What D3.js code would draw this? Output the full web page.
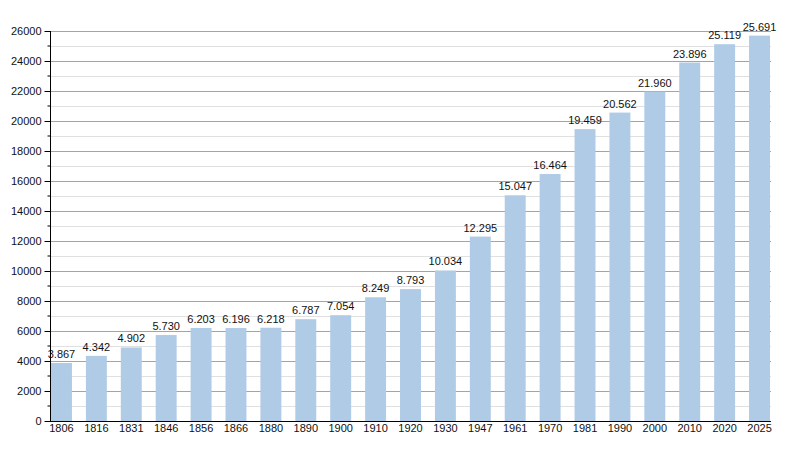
<!DOCTYPE html>
<html>
<head>
<meta charset="utf-8">
<script src="https://cdn.jsdelivr.net/npm/d3@7"></script>
<style>
  body { margin: 0; background: #fff; }
  text { font-family: "Liberation Sans", Arial, sans-serif; }
</style>
</head>
<body>
<div id="chart"></div>
<script>
// population by census year
var years = ["1806", "1816", "1831", "1846", "1856", "1866", "1880", "1890", "1900", "1910",
    "1920", "1930", "1947", "1961", "1970", "1981", "1990", "2000", "2010", "2020", "2025"];
var population = [3867, 4342, 4902, 5730, 6203, 6196, 6218, 6787, 7054, 8249,
    8793, 10034, 12295, 15047, 16464, 19459, 20562, 21960, 23896, 25119, 25691];
var majorTicks = d3.range(0, 26001, 2000);
var minorTicks = d3.range(1000, 26000, 2000);

var width = 800, height = 450;
// plot box edges (window.top is read-only, so no "top" here)
var plotLeft = 50, plotRight = 771, plotTop = 31, plotBottom = 421;

var svg = d3.select("#chart").append("svg")
    .attr("width", width)
    .attr("height", height);

var x = d3.scaleBand()
    .domain(years)
    .range([plotLeft + 1, plotRight - 1])
    .paddingInner(0.4)
    .paddingOuter(0);

var y = d3.scaleLinear()
    .domain([0, 26000])
    .range([plotBottom, plotTop]);

// minor grid lines
svg.append("g").selectAll("line")
    .data(minorTicks)
    .enter().append("line")
    .attr("x1", plotLeft).attr("x2", plotRight)
    .attr("y1", function (d) { return y(d) + 0.5; })
    .attr("y2", function (d) { return y(d) + 0.5; })
    .style("stroke", "#e0e0e0");

// major grid lines
svg.append("g").selectAll("line")
    .data(majorTicks.slice(1))
    .enter().append("line")
    .attr("x1", plotLeft).attr("x2", plotRight)
    .attr("y1", function (d) { return y(d) + 0.5; })
    .attr("y2", function (d) { return y(d) + 0.5; })
    .style("stroke", "#a4a4a4");

// bars
svg.append("g").selectAll("rect")
    .data(population)
    .enter().append("rect")
    .attr("x", function (d, i) { return x(years[i]); })
    .attr("y", function (d) { return y(d); })
    .attr("width", x.bandwidth())
    .attr("height", function (d) { return plotBottom - y(d); })
    .style("fill", "#b0cbe6");

// value labels, dot as thousands separator
var fmt = d3.formatLocale({ decimal: ",", thousands: ".", grouping: [3], currency: ["", ""] }).format(",");
svg.append("g").selectAll("text")
    .data(population)
    .enter().append("text")
    .attr("x", function (d, i) { return x(years[i]) + x.bandwidth() / 2; })
    .attr("y", function (d) { return y(d) - 5; })
    .attr("text-anchor", "middle")
    .style("font-size", "11px")
    .style("fill", "#111")
    .text(function (d) { return fmt(d); });

// y axis
var yAxis = svg.append("g")
    .attr("transform", "translate(" + (plotLeft + 0.5) + ",0)")
    .call(d3.axisLeft(y).tickValues(majorTicks).tickSize(6).tickPadding(3).tickFormat(d3.format("d")));
yAxis.select(".domain").attr("d", "M0," + plotTop + "V" + plotBottom);
yAxis.selectAll("text").style("font-size", "11px").style("fill", "#111")
    .style("font-family", "Liberation Sans, Arial, sans-serif");
yAxis.selectAll(".minor")
    .data(minorTicks)
    .enter().append("line")
    .attr("class", "minor")
    .attr("x1", -3).attr("x2", 0)
    .attr("y1", function (d) { return y(d); })
    .attr("y2", function (d) { return y(d); })
    .style("stroke", "#000");

// x axis
var xAxis = svg.append("g")
    .attr("transform", "translate(0," + (plotBottom + 0.5) + ")")
    .call(d3.axisBottom(x).tickSize(0).tickPadding(3));
xAxis.select(".domain").attr("d", "M" + plotLeft + ",0H" + plotRight);
xAxis.selectAll("text").style("font-size", "11px").style("fill", "#111")
    .style("font-family", "Liberation Sans, Arial, sans-serif");
</script>
</body>
</html>
